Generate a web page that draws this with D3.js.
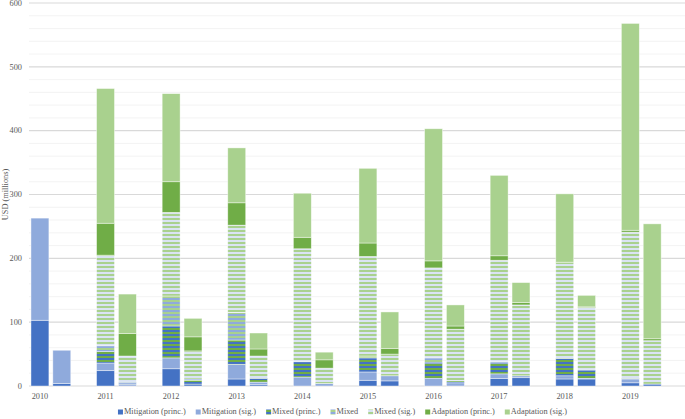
<!DOCTYPE html>
<html>
<head>
<meta charset="utf-8">
<script src="https://cdnjs.cloudflare.com/ajax/libs/d3/7.8.5/d3.min.js"></script>
<style>
  body { margin: 0; background: #fff; }
  svg { display: block; }
  text { font-family: "Liberation Serif", "Times New Roman", serif; fill: #595959; }
</style>
</head>
<body>
<svg id="chart" width="685" height="419"></svg>
<script>
// years, two bars per year (a, b)
const years = ["2010", "2011", "2012", "2013", "2014", "2015", "2016", "2017", "2018", "2019"];
const seriesNames = ["Mitigation (princ.)", "Mitigation (sig.)", "Mixed (princ.)", "Mixed", "Mixed (sig.)", "Adaptation (princ.)", "Adaptation (sig.)"];

// values per bar: 2010a, 2010b, 2011a, 2011b, ...
const mitPrinc = [103, 4, 24, 0, 27, 3, 11, 2, 0, 0, 9, 8, 0, 0, 12, 13, 11, 11, 5, 3];
const mitSig   = [160, 52, 12, 3, 17, 0, 23, 4, 14, 4, 13, 8, 12, 5, 7, 3, 5, 1, 6, 0];
const mixPrinc = [0, 0, 18, 0, 50, 6, 38, 6, 24, 0, 22, 0, 24, 3, 17, 0, 27, 13, 1, 0];
const mixed    = [0, 0, 9, 3, 47, 2, 43, 0, 0, 0, 3, 0, 8, 0, 2, 0, 0, 0, 0, 0];
const mixSig   = [0, 0, 142, 41, 131, 44, 137, 35, 177, 24, 156, 34, 141, 81, 159, 111, 151, 98, 229, 68];
const adPrinc  = [0, 0, 50, 35, 48, 22, 35, 11, 18, 13, 21, 9, 11, 5, 7, 4, 0, 1, 3, 3];
const adSig    = [0, 0, 211, 62, 138, 29, 86, 25, 69, 12, 117, 57, 207, 33, 126, 31, 107, 18, 324, 180];

const yTicks = [0, 100, 200, 300, 400, 500, 600];

const svg = d3.select('#chart');
const margin = {left: 29, right: 685, top: 3, bottom: 386};

// fills: solid colours or stripe patterns
const stripes = {
  "Mixed (princ.)": ["#4472c4", "#70ad47"],
  "Mixed": ["#8faadc", "#a9d18e"],
  "Mixed (sig.)": ["#a9d18e", "#dae3f3"]
};
const solid = {
  "Mitigation (princ.)": "#4472c4",
  "Mitigation (sig.)": "#8faadc",
  "Adaptation (princ.)": "#70ad47",
  "Adaptation (sig.)": "#a9d18e"
};
const defs = svg.append('defs');
Object.keys(stripes).forEach((k, i) => {
  let p = defs.append('pattern')
    .attr('id', 'pat' + i)
    .attr('patternUnits', 'userSpaceOnUse')
    .attr('width', 4).attr('height', 4);
  p.append('rect').attr('width', 4).attr('height', 2).attr('fill', stripes[k][1]);
  p.append('rect').attr('y', 2).attr('width', 4).attr('height', 2).attr('fill', stripes[k][0]);
});
function fillOf(name) {
  if (solid[name]) return solid[name];
  return 'url(#pat' + Object.keys(stripes).indexOf(name) + ')';
}

const x = d3.scaleBand().domain(years).range([margin.left, margin.right]);
const slot = d3.scaleBand().domain(["a", "b", "gap"]).range([0, x.bandwidth()]).paddingInner(0.18).paddingOuter(0.09);
const y = d3.scaleLinear().domain([0, 600]).range([margin.bottom, margin.top]);

// gridlines
const minor = d3.range(0, 601, 20);
svg.append('g').selectAll('line')
  .data(minor)
  .enter().append('line')
  .attr('x1', margin.left).attr('x2', margin.right)
  .attr('y1', d => y(d)).attr('y2', d => y(d))
  .attr('stroke', d => d % 100 === 0 ? '#d9d9d9' : '#f0f0f0')
  .attr('stroke-width', d => d % 100 === 0 ? 1.2 : 0.8);

// build the table of bars
let rows = [];
years.forEach((yr, i) => {
  ["a", "b"].forEach((s, j) => {
    let k = i * 2 + j;
    rows.push({
      year: yr, slot: s,
      "Mitigation (princ.)": mitPrinc[k],
      "Mitigation (sig.)": mitSig[k],
      "Mixed (princ.)": mixPrinc[k],
      "Mixed": mixed[k],
      "Mixed (sig.)": mixSig[k],
      "Adaptation (princ.)": adPrinc[k],
      "Adaptation (sig.)": adSig[k]
    });
  });
});
const stack = d3.stack().keys(seriesNames)(rows);

svg.append('g').selectAll('g')
  .data(stack)
  .enter().append('g')
  .attr('fill', d => fillOf(d.key))
  .selectAll('rect')
  .data(d => d.filter(p => p[1] - p[0] > 0))
  .enter().append('rect')
  .attr('x', d => x(d.data.year) + slot(d.data.slot))
  .attr('width', slot.bandwidth())
  .attr('y', d => y(d[1]))
  .attr('height', d => y(d[0]) - y(d[1]))
  .attr('stroke', '#ffffff')
  .attr('stroke-opacity', 0.6)
  .attr('stroke-width', 0.7);

// y axis labels
svg.append('g').selectAll('text')
  .data(yTicks)
  .enter().append('text')
  .attr('x', 22)
  .attr('y', d => y(d))
  .attr('dy', '0.33em')
  .attr('text-anchor', 'end')
  .attr('font-size', '8.3px')
  .text(d => d);

svg.append('text')
  .attr('transform', 'translate(8,' + ((margin.top + margin.bottom) / 2) + ') rotate(-90)')
  .attr('text-anchor', 'middle')
  .attr('font-size', '8.3px')
  .text('USD (millions)');

// x labels under first bar of each year
svg.append('g').selectAll('text')
  .data(years)
  .enter().append('text')
  .attr('x', d => x(d) + slot('a') + slot.bandwidth() / 2)
  .attr('y', 399)
  .attr('text-anchor', 'middle')
  .attr('font-size', '8.3px')
  .text(d => d);

// legend
const legend = svg.append('g');
let lx = 0;
seriesNames.forEach(name => {
  let g = legend.append('g').attr('transform', 'translate(' + lx + ',0)');
  g.append('rect').attr('x', 0).attr('y', -4.5).attr('width', 5).attr('height', 5).attr('fill', fillOf(name));
  let t = g.append('text').attr('x', 6).attr('y', 0).attr('font-size', '8.3px').text(name);
  lx += 6 + t.node().getComputedTextLength() + 10;
});
const legendWidth = lx - 10;
legend.attr('transform', 'translate(' + (342.5 - legendWidth / 2) + ',414)');
</script>
</body>
</html>
